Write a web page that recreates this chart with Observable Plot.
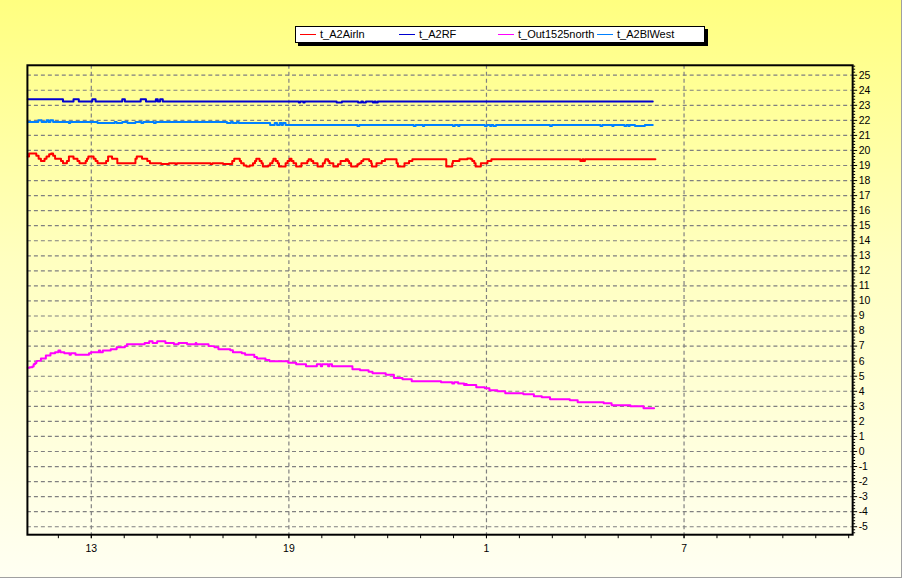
<!DOCTYPE html>
<html>
<head>
<meta charset="utf-8">
<script src="https://cdn.jsdelivr.net/npm/d3@7"></script>
<script src="https://cdn.jsdelivr.net/npm/@observablehq/plot@0.6"></script>
<style>
  html, body { margin: 0; padding: 0; background: #ffffff; }
  #wrap {
    position: relative; width: 901px; height: 577px;
    background: linear-gradient(to bottom, #ffff80 0%, #ffffc0 45%, #fffff2 100%);
    border-right: 1px solid #a0a0a0; border-bottom: 1px solid #a0a0a0;
    overflow: hidden;
    font-family: "Liberation Sans", Arial, sans-serif;
  }
  #chart { position: absolute; left: 0; top: 0; }
  #legend {
    position: absolute; left: 295px; top: 26px; width: 408px; height: 15px;
    background: #ffffff; border: 1px solid #000; box-shadow: 3px 3px 0 #000;
    font-size: 11px; color: #000;
  }
  .item { position: absolute; top: 0; height: 15px; line-height: 15px; white-space: nowrap; }
  .sw { position: absolute; top: 7px; width: 16px; height: 1px; }
  .lab { position: absolute; left: 20px; top: 0; }
</style>
</head>
<body>
<div id="wrap">
  <div id="chart"></div>
  <div id="legend"></div>
</div>
<script>
// ---- series names & colours ----
const seriesNames = ["t_A2Airln", "t_A2RF", "t_Out1525north", "t_A2BlWest"];
const seriesColors = ["#ff0000", "#0000d0", "#ff00ff", "#0080ff"];

// ---- x axis: hours since midnight of day 1 (25 = 1 o'clock next day) ----
const xLabelHours = [13, 19, 25, 31];
const xTickLabels = ["13", "19", "1", "7"];
const hourTicks = d3.range(12, 37);
const yTicks = d3.range(-5, 26);

// ---- data: [hour, value] change points (step-after) ----
const t_A2Airln = [
  [11.07,19.6],[11.11,19.8],[11.33,19.65],[11.40,19.45],[11.47,19.3],[11.58,19.45],[11.64,19.6],[11.72,19.75],
  [11.78,19.8],[11.84,19.65],[11.90,19.45],[12.08,19.3],[12.14,19.15],[12.26,19.3],[12.32,19.6],[12.46,19.45],
  [12.58,19.3],[12.64,19.15],[12.83,19.3],[12.87,19.45],[12.91,19.6],[13.07,19.45],[13.13,19.3],[13.19,19.15],
  [13.45,19.3],[13.51,19.6],[13.63,19.45],[13.79,19.15],[14.34,19.45],[14.38,19.6],[14.54,19.45],[14.70,19.3],
  [14.78,19.15],[15.12,19.1],[15.36,19.15],[15.55,19.1],[15.60,19.15],[16.62,19.1],[16.68,19.15],[17.0,19.1],
  [17.28,19.3],[17.34,19.45],[17.51,19.3],[17.55,19.15],[17.63,19.0],[17.71,18.93],[17.81,19.0],[17.91,19.15],
  [17.97,19.3],[18.01,19.45],[18.11,19.3],[18.17,19.15],[18.21,18.93],[18.37,19.0],[18.43,19.15],[18.50,19.3],
  [18.53,19.45],[18.60,19.3],[18.66,19.15],[18.70,18.93],[18.90,19.15],[18.96,19.3],[19.02,19.45],[19.08,19.3],
  [19.14,19.15],[19.22,18.93],[19.38,19.15],[19.56,19.3],[19.60,19.42],[19.68,19.3],[19.74,19.15],[19.87,18.93],
  [20.03,19.15],[20.09,19.3],[20.11,19.42],[20.19,19.3],[20.23,19.15],[20.35,18.93],[20.49,19.08],[20.57,19.3],
  [20.73,19.42],[20.79,19.3],[20.83,19.15],[20.89,18.93],[21.08,19.08],[21.14,19.15],[21.20,19.3],[21.26,19.42],
  [21.44,19.3],[21.50,19.15],[21.52,18.93],[21.66,19.15],[21.82,19.3],[21.92,19.42],[22.27,19.15],[22.31,18.93],
  [22.51,19.15],[22.65,19.3],[22.75,19.42],[23.78,18.93],[23.96,19.15],[23.98,19.3],[24.18,19.42],[24.42,19.47],
  [24.53,19.42],[24.57,19.3],[24.63,19.15],[24.67,18.93],[24.83,19.15],[25.03,19.3],[25.15,19.42],[27.85,19.3],
  [27.91,19.42],[27.95,19.3],[27.99,19.42],[30.13,19.42]
];
const t_A2RF = [
  [11.07,23.4],[12.14,23.25],[12.46,23.4],[12.62,23.25],[13.03,23.4],[13.13,23.25],[13.94,23.4],[14.02,23.25],
  [14.50,23.4],[14.66,23.25],[14.96,23.4],[15.02,23.25],[15.09,23.4],[15.17,23.25],[19.30,23.19],[19.34,23.25],
  [19.44,23.19],[19.48,23.25],[20.45,23.19],[20.61,23.25],[21.10,23.19],[21.20,23.25],[21.25,23.19],[21.34,23.25],
  [21.55,23.19],[21.60,23.25],[21.64,23.19],[21.70,23.25],[30.05,23.25]
];
const t_Out1525north = [
  [11.07,5.56],[11.13,5.6],[11.21,5.64],[11.25,5.8],[11.29,5.87],[11.33,5.98],[11.35,6.02],[11.47,6.18],
  [11.62,6.38],[11.76,6.53],[11.90,6.6],[12.0,6.71],[12.06,6.6],[12.18,6.53],[12.34,6.42],[12.38,6.53],
  [12.52,6.42],[12.93,6.53],[12.99,6.6],[13.23,6.71],[13.27,6.6],[13.35,6.71],[13.51,6.71],[13.59,6.8],
  [13.77,6.93],[14.02,7.0],[14.08,7.13],[14.62,7.2],[14.76,7.33],[14.86,7.2],[15.0,7.33],[15.25,7.2],
  [15.51,7.13],[15.65,7.2],[15.91,7.13],[16.17,7.2],[16.19,7.13],[16.56,7.0],[16.74,6.93],[16.86,6.8],
  [17.22,6.73],[17.30,6.6],[17.57,6.53],[17.67,6.42],[17.95,6.27],[18.03,6.18],[18.29,6.07],[18.41,6.0],
  [18.98,5.89],[19.22,5.8],[19.52,5.67],[19.85,5.8],[19.97,5.67],[20.01,5.8],[20.19,5.67],[20.23,5.8],
  [20.31,5.67],[20.37,5.67],[20.93,5.47],[21.16,5.4],[21.42,5.29],[21.54,5.2],[21.94,5.09],[22.19,4.89],
  [22.45,4.8],[22.73,4.67],[23.62,4.6],[23.96,4.51],[24.02,4.6],[24.14,4.51],[24.32,4.42],[24.36,4.49],
  [24.40,4.42],[24.69,4.27],[24.95,4.2],[25.09,4.07],[25.33,4.0],[25.57,3.87],[26.12,3.8],[26.44,3.67],
  [26.68,3.6],[26.93,3.47],[27.53,3.4],[27.77,3.27],[28.56,3.2],[28.80,3.07],[29.37,3.0],[29.77,2.87],
  [30.09,2.87]
];
const t_A2BlWest = [
  [11.07,21.89],[11.39,22.0],[11.49,21.89],[11.64,22.0],[11.70,21.89],[11.76,22.0],[11.84,21.89],[12.32,21.82],
  [12.36,21.89],[13.19,21.82],[13.71,21.89],[13.77,21.82],[13.94,21.89],[14.10,21.82],[14.34,21.89],[14.52,21.82],
  [14.58,21.89],[14.90,21.82],[14.96,21.89],[17.12,21.82],[17.24,21.89],[17.30,21.82],[17.42,21.89],[17.48,21.82],
  [18.43,21.69],[18.57,21.82],[18.64,21.69],[18.72,21.82],[18.78,21.69],[18.82,21.82],[18.90,21.69],[21.08,21.62],
  [21.14,21.69],[22.79,21.62],[22.85,21.69],[23.07,21.62],[23.11,21.69],[23.98,21.62],[24.04,21.69],[24.14,21.62],
  [24.18,21.69],[24.95,21.62],[25.01,21.69],[25.11,21.62],[25.15,21.69],[25.21,21.62],[25.29,21.69],[26.93,21.62],
  [26.99,21.69],[28.46,21.62],[28.52,21.69],[28.82,21.62],[28.86,21.69],[29.19,21.62],[29.25,21.69],[29.31,21.62],
  [29.35,21.69],[29.51,21.62],[29.81,21.69],[30.05,21.69]
];

const seriesData = [t_A2Airln, t_A2RF, t_Out1525north, t_A2BlWest];
const table = seriesData.flatMap((arr, i) => arr.map(([h, v]) => ({series: seriesNames[i], h, v})));

const minorY = d3.range(-27, 129).filter(i => i % 5 !== 0).map(i => i / 5);
const dash = {stroke: "#808080", strokeDasharray: "4,3", strokeWidth: 1.2};

const chart = Plot.plot({
  width: 904,
  height: 580,
  marginLeft: 27,
  marginRight: 49,
  marginTop: 65,
  marginBottom: 44,
  style: {background: "transparent", fontFamily: "'Liberation Sans', Arial, sans-serif", fontSize: "10.5px", color: "#000"},
  x: {domain: [11.06, 36.12]},
  y: {domain: [-5.53, 25.66]},
  color: {domain: seriesNames, range: seriesColors},
  marks: [
    Plot.ruleY(yTicks, dash),
    Plot.ruleX(xLabelHours, dash),
    Plot.line(table, {x: "h", y: "v", z: "series", stroke: "series", curve: "step-after", strokeWidth: 2}),
    Plot.frame({stroke: "#000", strokeWidth: 2}),
    Plot.axisY(yTicks, {anchor: "right", tickSize: 4, tickPadding: 2, tickFormat: d => String(d), label: null}),
    Plot.axisY(minorY, {anchor: "right", tickSize: 2, tickFormat: () => "", label: null}),
    Plot.axisX(hourTicks, {anchor: "bottom", tickSize: 4, tickFormat: () => "", label: null}),
    Plot.axisX(xLabelHours, {anchor: "bottom", tickSize: 4, tickPadding: 6, tickFormat: h => xTickLabels[xLabelHours.indexOf(h)], label: null})
  ]
});
document.getElementById("chart").appendChild(chart);

// ---- legend ----
const legendX = [4, 103, 202, 301];
const legend = document.getElementById("legend");
seriesNames.forEach((name, i) => {
  const it = document.createElement("div");
  it.className = "item";
  it.style.left = legendX[i] + "px";
  const sw = document.createElement("div");
  sw.className = "sw";
  sw.style.background = seriesColors[i];
  const lb = document.createElement("span");
  lb.className = "lab";
  lb.textContent = name;
  it.appendChild(sw);
  it.appendChild(lb);
  legend.appendChild(it);
});
</script>
</body>
</html>
